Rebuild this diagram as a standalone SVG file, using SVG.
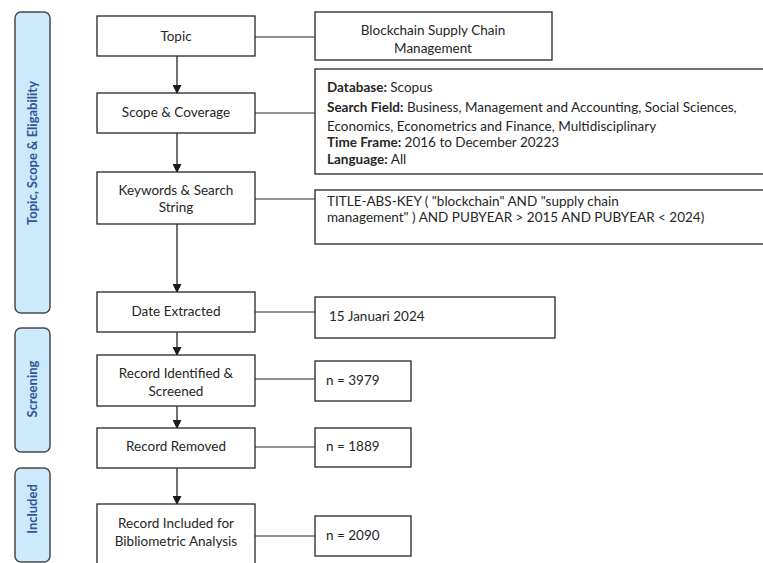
<svg xmlns="http://www.w3.org/2000/svg" width="763" height="563" viewBox="0 0 763 563">
<defs>
<style>
.bg{fill:#ffffff}
.bar{fill:#cdeafc;stroke:#4a4a4a;stroke-width:1.5}
.bar-t{font-family:Lato,"Liberation Sans",sans-serif;font-size:13px;font-weight:bold;fill:#2f5597;text-anchor:middle}
.box{fill:#ffffff;stroke:#262626;stroke-width:1.3}
.t{font-family:Lato,"Liberation Sans",sans-serif;font-size:13.5px;fill:#262626}
.c{text-anchor:middle}
.b{font-weight:bold}
.ln{stroke:#6e6e6e;stroke-width:1.5;fill:none}
.ar{stroke:#262626;stroke-width:1.3;fill:none}
</style>
<marker id="ah" markerWidth="9" markerHeight="9" refX="8" refY="4.5" orient="auto" markerUnits="userSpaceOnUse" viewBox="0 0 9 9">
<path d="M0,0 L9,4.5 L0,9 Z" fill="#1a1a1a"/>
</marker>
</defs>
<rect class="bg" x="0" y="0" width="763" height="563"/>

<g id="phase-topic">
<rect class="bar" x="15" y="12" width="35" height="301" rx="6"/>
<text class="bar-t" transform="translate(37,153) rotate(-90)">Topic, Scope &amp; Eligability</text>
</g>
<g id="phase-screening">
<rect class="bar" x="15" y="328" width="35" height="124" rx="6"/>
<text class="bar-t" transform="translate(37,389) rotate(-90)">Screening</text>
</g>
<g id="phase-included">
<rect class="bar" x="15" y="468" width="35" height="94" rx="6"/>
<text class="bar-t" transform="translate(37,509) rotate(-90)">Included</text>
</g>

<g id="connectors">
<line class="ar" x1="177" y1="56" x2="177" y2="93" marker-end="url(#ah)"/>
<line class="ar" x1="177" y1="133" x2="177" y2="172" marker-end="url(#ah)"/>
<line class="ar" x1="177" y1="224" x2="177" y2="292" marker-end="url(#ah)"/>
<line class="ar" x1="177" y1="332" x2="177" y2="355" marker-end="url(#ah)"/>
<line class="ar" x1="177" y1="406" x2="177" y2="428" marker-end="url(#ah)"/>
<line class="ar" x1="177" y1="468" x2="177" y2="504" marker-end="url(#ah)"/>
<line class="ln" x1="255" y1="37" x2="315" y2="37"/>
<line class="ln" x1="255" y1="113" x2="315" y2="113"/>
<line class="ln" x1="255" y1="199" x2="315" y2="199"/>
<line class="ln" x1="255" y1="312" x2="315" y2="312"/>
<line class="ln" x1="255" y1="379" x2="315" y2="379"/>
<line class="ln" x1="255" y1="447" x2="315" y2="447"/>
<line class="ln" x1="255" y1="536" x2="315" y2="536"/>
</g>

<g id="topic">
<rect class="box" x="97" y="16" width="158" height="40"/>
<text class="t c" x="176" y="41">Topic</text>
</g>
<g id="scope">
<rect class="box" x="97" y="93" width="158" height="40"/>
<text class="t c" x="176" y="117">Scope &amp; Coverage</text>
</g>
<g id="keywords">
<rect class="box" x="97" y="172" width="158" height="52"/>
<text class="t c" x="176" y="195">Keywords &amp; Search</text>
<text class="t c" x="176" y="212">String</text>
</g>
<g id="date-extracted">
<rect class="box" x="97" y="292" width="158" height="40"/>
<text class="t c" x="176" y="316">Date Extracted</text>
</g>
<g id="record-identified">
<rect class="box" x="97" y="355" width="158" height="51"/>
<text class="t c" x="176" y="378">Record Identified &amp;</text>
<text class="t c" x="176" y="396">Screened</text>
</g>
<g id="record-removed">
<rect class="box" x="97" y="428" width="158" height="40"/>
<text class="t c" x="176" y="451">Record Removed</text>
</g>
<g id="record-included">
<rect class="box" x="97" y="504" width="158" height="70"/>
<text class="t c" x="176" y="528">Record Included for</text>
<text class="t c" x="176" y="546">Bibliometric Analysis</text>
</g>

<g id="topic-detail">
<rect class="box" x="315" y="12" width="237" height="48"/>
<text class="t c" x="433" y="35">Blockchain Supply Chain</text>
<text class="t c" x="433" y="53">Management</text>
</g>
<g id="scope-detail">
<rect class="box" x="315" y="69" width="460" height="105"/>
<text class="t" x="327" y="92"><tspan class="b">Database:</tspan> Scopus</text>
<text class="t" x="327" y="112"><tspan class="b">Search Field:</tspan> Business, Management and Accounting, Social Sciences,</text>
<text class="t" x="327" y="131">Economics, Econometrics and Finance, Multidisciplinary</text>
<text class="t" x="327" y="147"><tspan class="b">Time Frame:</tspan> 2016 to December 20223</text>
<text class="t" x="327" y="164"><tspan class="b">Language:</tspan> All</text>
</g>
<g id="keywords-detail">
<rect class="box" x="315" y="190" width="460" height="54"/>
<text class="t" x="327" y="206">TITLE-ABS-KEY ( "blockchain" AND "supply chain</text>
<text class="t" x="327" y="222">management" ) AND PUBYEAR &gt; 2015 AND PUBYEAR &lt; 2024)</text>
</g>
<g id="date-detail">
<rect class="box" x="315" y="297" width="240" height="41"/>
<text class="t" x="329" y="321">15 Januari 2024</text>
</g>
<g id="n-identified">
<rect class="box" x="315" y="361" width="96" height="40"/>
<text class="t" x="326" y="385">n = 3979</text>
</g>
<g id="n-removed">
<rect class="box" x="315" y="428" width="96" height="39"/>
<text class="t" x="326" y="451">n = 1889</text>
</g>
<g id="n-included">
<rect class="box" x="315" y="516" width="96" height="40"/>
<text class="t" x="326" y="540">n = 2090</text>
</g>
</svg>
